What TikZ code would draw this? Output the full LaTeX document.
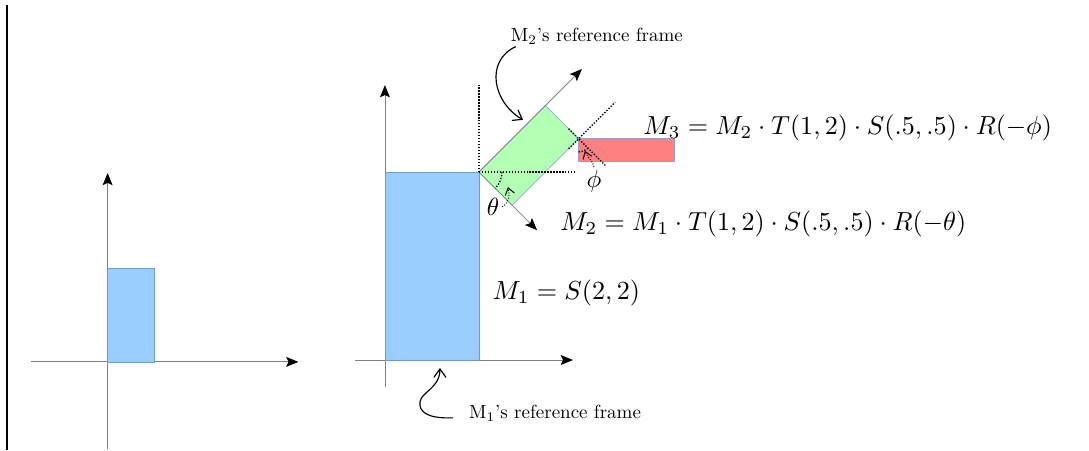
\documentclass[tikz,border=0pt]{standalone}
\usepackage{amsmath}
\usepackage{tikz}
\usetikzlibrary{arrows.meta,calc}
\definecolor{frameblue}{HTML}{99CCFF}
\definecolor{frameblueedge}{HTML}{6C9BD2}
\definecolor{framegreen}{HTML}{B3FFB3}
\definecolor{framegreenedge}{HTML}{8AB8C0}
\definecolor{framered}{HTML}{FF8080}
\definecolor{framerededge}{HTML}{9C9CCB}
\tikzset{
  axis/.style={draw=black!50, line width=0.5pt,
               -{Stealth[length=2.6mm,width=2.1mm,inset=0.5mm,black]}},
  guide/.style={densely dotted, line width=0.8pt},
  pin/.style={densely dotted, line width=0.6pt, -{Straight Barb[length=1.4mm,width=2mm]}},
  callout/.style={line width=0.7pt, -{Straight Barb[length=1.8mm,width=2.6mm]}},
  formula/.style={anchor=west, inner sep=0pt, scale=1.58},
  caption/.style={inner sep=1pt, scale=1.15},
  angle/.style={inner sep=1pt, scale=1.5},
}

\begin{document}
\begin{tikzpicture}
  \useasboundingbox (-8.19,-1.915) rectangle (14.98,7.66);
  % separator at the left edge
  \draw[line width=1pt] (-8.04,7.55) -- (-8.04,-1.915);
  % left panel: the unit rectangle
  \begin{scope}[shift={(-5.9,-0.04)}]
    \draw[axis] (-1.64,0) -- (4.06,0);
    \draw[axis] (0,-1.85) -- (0,4.02);
    \filldraw[fill=frameblue, draw=frameblueedge, line width=0.4pt] (0,0) rectangle (1,2);
  \end{scope}
  % right panel: M1 frame
  \draw[axis] (-0.64,0) -- (4.0,0);
  \draw[axis] (0,-0.57) -- (0,5.85);
  \filldraw[fill=frameblue, draw=frameblueedge, line width=0.4pt] (0,0) rectangle (2,4);
  % M2 frame, turned by -theta
  \begin{scope}[shift={(2,4)}, rotate=-45]
    \filldraw[fill=framegreen, draw=framegreenedge, line width=0.4pt] (0,0) rectangle (1,2);
    \draw[axis] (0,0) -- (1.75,0);
    \draw[axis] (0,0) -- (0,3.1);
    % M3 frame at (1,2)
    \begin{scope}[shift={(1,2)}, rotate=45]
      \filldraw[fill=framered, draw=framerededge, line width=0.4pt] (0,0) rectangle (2.03,-0.47);
    \end{scope}
    \draw[guide] (1,1.7) -- (1,3.1);
    \draw[guide] (0.7,2) -- (1.8,2);
    \draw[guide] (1.28,2) arc[start angle=0, end angle=-45, radius=0.28];
  \end{scope}
  % guides at the corner of M1
  \draw[guide] (2,4) -- (2,5.85);
  \draw[guide] (2,4) -- (4.04,4);
  \draw[guide] (2.49,4) arc[start angle=0, end angle=-45, radius=0.49];
  % angle labels
  \node[angle] (thetalbl) at (2.30,3.26) {$\theta$};
  \coordinate (thetatip) at (2.617,3.68);
  \draw[pin] (thetalbl.east) to[out=30,in=-75] (thetatip);
  \node[angle] (philbl) at (4.447,3.81) {$\phi$};
  \coordinate (phitip) at (4.255,4.45);
  \draw[pin] (philbl.north) to[out=100,in=-70] (phitip);
  % frame captions
  \node[caption] (m2lbl) at (4.51,6.89) {M$_2$'s reference frame};
  \coordinate (m2tip) at (2.94,5.11);
  \draw[callout] ([xshift=0.15cm]m2lbl.south west) to[out=205,in=150,looseness=1.2] (m2tip);
  \node[caption] (m1lbl) at (3.62,-1.13) {M$_1$'s reference frame};
  \coordinate (m1tip) at (1.17,-0.17);
  \draw[callout] ([xshift=-0.3cm,yshift=-0.1cm]m1lbl.west)
    .. controls (0.9,-1.25) and (0.72,-1.1) .. (0.745,-0.894)
    .. controls (0.77,-0.68) and (1.17,-0.6) .. (m1tip);
  % transforms
  \node[formula] (m3eq) at (5.49,4.93) {$M_3 = M_2\cdot T(1,2)\cdot S(.5,.5)\cdot R(-\phi)$};
  \node[formula] (m2eq) at (3.72,2.89) {$M_2 = M_1\cdot T(1,2)\cdot S(.5,.5)\cdot R(-\theta)$};
  \node[formula] (m1eq) at (2.28,1.43) {$M_1 = S(2,2)$};
\end{tikzpicture}
\end{document}
